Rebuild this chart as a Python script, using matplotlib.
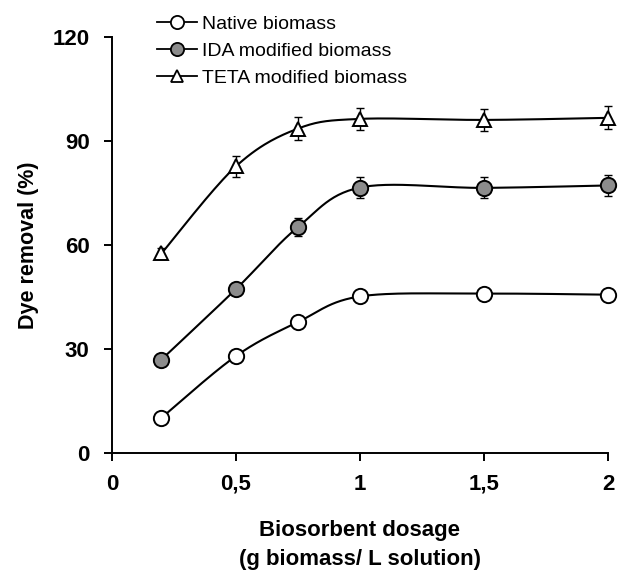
import numpy as np
import matplotlib
matplotlib.use("Agg")
import matplotlib.pyplot as plt
from matplotlib.lines import Line2D

plt.rcParams['font.family'] = ['Liberation Sans', 'DejaVu Sans']

dosage = [0.2, 0.5, 0.75, 1.0, 1.5, 2.0]
native = [10.2, 28.0, 37.8, 45.2, 46.0, 45.7]
native_err = [0.8, 1.0, 1.0, 1.2, 1.2, 1.2]
ida = [27.0, 47.3, 65.2, 76.6, 76.5, 77.2]
ida_err = [1.0, 1.5, 2.5, 3.0, 3.0, 3.0]
teta = [57.6, 82.7, 93.6, 96.4, 96.1, 96.7]
teta_err = [1.5, 3.0, 3.2, 3.2, 3.2, 3.3]

xticks = [0, 0.5, 1, 1.5, 2]
xticklabels = ["0", "0,5", "1", "1,5", "2"]
yticks = [0, 30, 60, 90, 120]
series_names = ["Native biomass", "IDA modified biomass", "TETA modified biomass"]


def smooth(x, y, n=30):
    x = np.asarray(x, float); y = np.asarray(y, float)
    px = np.concatenate([[x[0]], x, [x[-1]]])
    py = np.concatenate([[y[0]], y, [y[-1]]])
    xs, ys = [], []
    t = np.linspace(0, 1, n)
    for i in range(1, len(px) - 2):
        p0 = np.array([px[i], py[i]]); p3 = np.array([px[i + 1], py[i + 1]])
        c1 = p0 + (np.array([px[i + 1], py[i + 1]]) - np.array([px[i - 1], py[i - 1]])) / 6
        c2 = p3 - (np.array([px[i + 2], py[i + 2]]) - np.array([px[i], py[i]])) / 6
        b = ((1 - t) ** 3)[:, None] * p0 + (3 * (1 - t) ** 2 * t)[:, None] * c1 \
            + (3 * (1 - t) * t ** 2)[:, None] * c2 + (t ** 3)[:, None] * p3
        xs.extend(b[:, 0]); ys.extend(b[:, 1])
    return xs, ys


fig = plt.figure(figsize=(6.18, 5.70), dpi=100)
ax = fig.add_axes([0.181, 0.205, 0.803, 0.730])

styles = [
    dict(marker='o', mfc='white', ms=11),
    dict(marker='o', mfc='#8c8c8c', ms=11),
    dict(marker='^', mfc='white', ms=10),
]
data = [(native, native_err), (ida, ida_err), (teta, teta_err)]
for (yv, ye), st in zip(data, styles):
    sx, sy = smooth(dosage, yv)
    ax.plot(sx, sy, color='black', lw=1.5, zorder=2, clip_on=False)
    ax.errorbar(dosage, yv, yerr=ye, fmt='none', ecolor='black', elinewidth=1.0,
                capsize=3, capthick=1.0, zorder=3, clip_on=False)
    ax.plot(dosage, yv, linestyle='none', marker=st['marker'], mfc=st['mfc'],
            mec='black', mew=1.4, ms=st['ms'], zorder=4, clip_on=False)

ax.set_xlim(0, 2)
ax.set_ylim(0, 120)
ax.set_xticks(xticks)
ax.set_xticklabels(xticklabels)
ax.set_yticks(yticks)
for s in ['top', 'right']:
    ax.spines[s].set_visible(False)
for s in ['left', 'bottom']:
    ax.spines[s].set_linewidth(1.4)
ax.tick_params(axis='x', direction='out', length=6, width=1.4, labelsize=16, pad=9)
ax.tick_params(axis='y', direction='out', length=6, width=1.4, labelsize=16, pad=10)
for lbl in ax.get_xticklabels() + ax.get_yticklabels():
    lbl.set_fontweight('bold')

ax.set_ylabel("Dye removal (%)", fontsize=15.5, fontweight='bold', labelpad=10)
ax.set_xlabel("Biosorbent dosage\n(g biomass/ L solution)", fontsize=16,
              fontweight='bold', labelpad=18, linespacing=1.5)

handles = [Line2D([], [], color='black', lw=1.3, marker=st['marker'], mfc=st['mfc'],
                  mec='black', mew=1.3, ms=st['ms'] - 1.5) for st in styles]
leg = fig.legend(handles, series_names, loc='upper left', bbox_to_anchor=(0.254, 0.973),
                 frameon=False, fontsize=14, handlelength=2.05, handletextpad=0.26,
                 labelspacing=0.48, borderaxespad=0.0, borderpad=0.0)

fig.savefig("out.png", dpi=100)
